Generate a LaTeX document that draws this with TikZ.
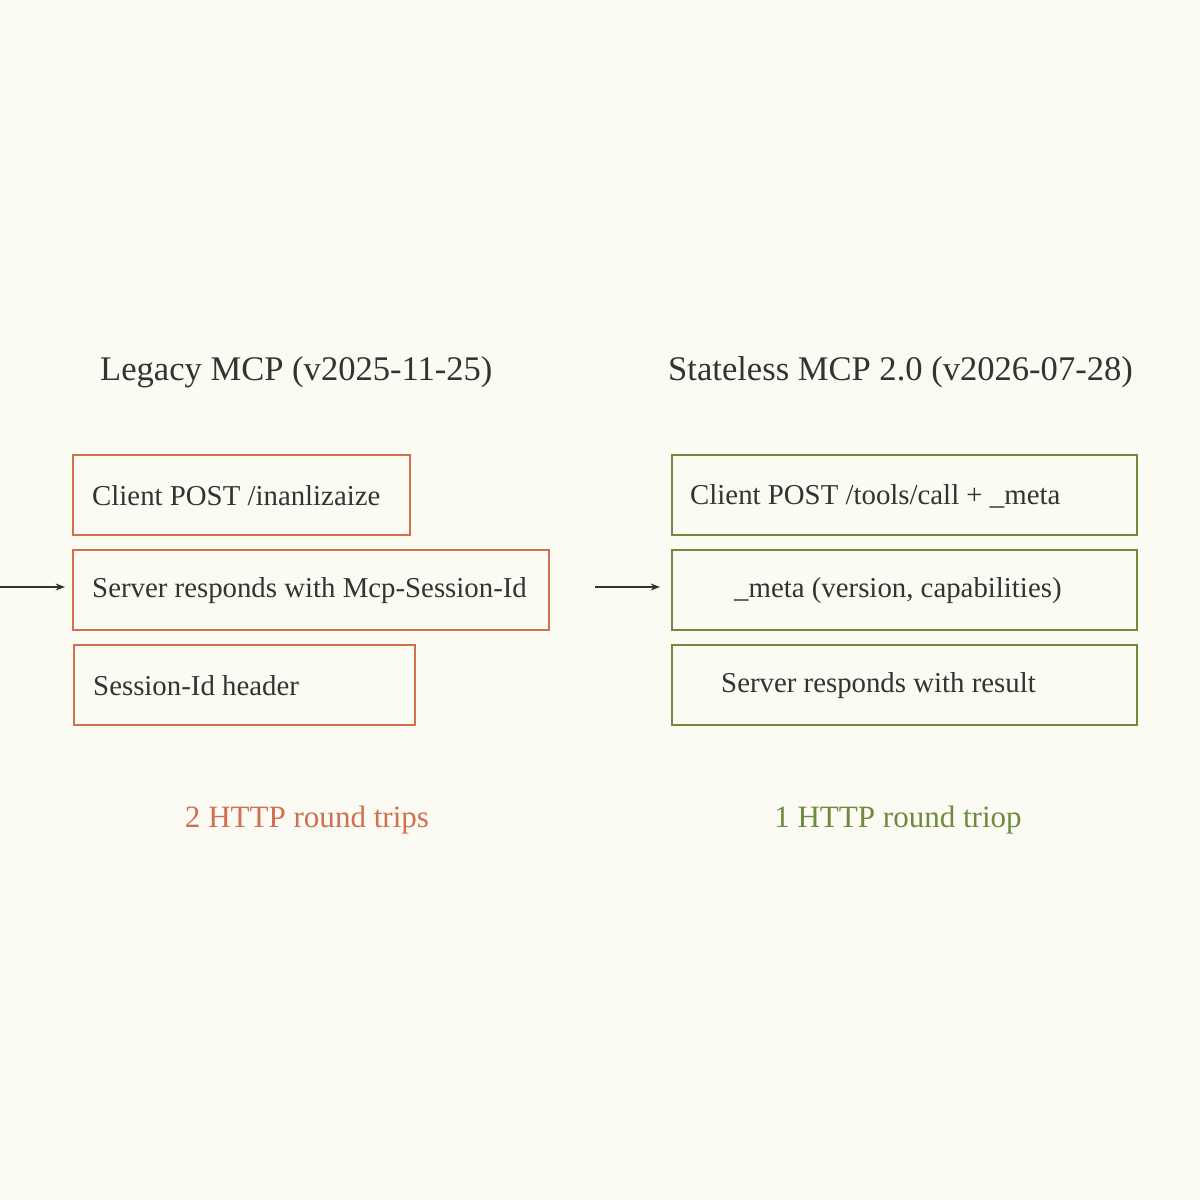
\documentclass[tikz,border=0pt]{standalone}
\usepackage{fontspec}
\setmainfont{Liberation Serif}
\usetikzlibrary{arrows.meta}
\begin{document}
\begin{tikzpicture}[x=0.3mm,y=-0.3mm,
  box/.style={draw=#1,line width=1.8pt},
  txt/.style={anchor=west,inner sep=0,font=\fontsize{24.6}{28}\selectfont,text=black!80},
  arr/.style={-{Stealth[length=8pt,width=6pt]},line width=1pt,draw=black!80}]
\fill[fill={rgb,255:red,251;green,250;blue,243}] (0,0) rectangle (1200,1200);
\useasboundingbox (0,0) rectangle (1200,1200);
\colorlet{og}{rgb,255:red,208;green,112;blue,80}
\colorlet{gr}{rgb,255:red,110;green,139;blue,61}
\node[anchor=west,inner sep=0,font=\fontsize{29.5}{32}\selectfont,text=black!80] (t1) at (100,372) {Legacy MCP (v2025-11-25)};
\node[anchor=west,inner sep=0,font=\fontsize{29.5}{32}\selectfont,text=black!80] (t2) at (668,372) {Stateless MCP 2.0 (v2026-07-28)};
\draw[box=og] (73,455) rectangle (410,535);
\draw[box=og] (73,550) rectangle (549,630);
\draw[box=og] (74,645) rectangle (415,725);
\node[txt] (l1) at (92,496) {Client POST /inanlizaize};
\node[txt] (l2) at (92,591) {Server responds with Mcp-Session-Id};
\node[txt] (l3) at (93,686) {Session-Id header};
\draw[box=gr] (672,455) rectangle (1137,535);
\draw[box=gr] (672,550) rectangle (1137,630);
\draw[box=gr] (672,645) rectangle (1137,725);
\node[txt] (r1) at (690,496) {Client POST /tools/call + \_meta};
\node[txt] (r2) at (734,591) {\_meta (version, capabilities)};
\node[txt] (r3) at (721,686) {Server responds with result};
\coordinate (a0) at (0,587); \coordinate (a1) at (65,587);
\coordinate (b0) at (595,587); \coordinate (b1) at (660,587);
\draw[arr] (a0) -- (a1);
\draw[arr] (b0) -- (b1);
\node[inner sep=0,font=\fontsize{26.5}{30}\selectfont,text=og] (f1) at (307,820) {2 HTTP round trips};
\node[inner sep=0,font=\fontsize{26.5}{30}\selectfont,text=gr] (f2) at (898,820) {1 HTTP round triop};
\end{tikzpicture}
\end{document}
